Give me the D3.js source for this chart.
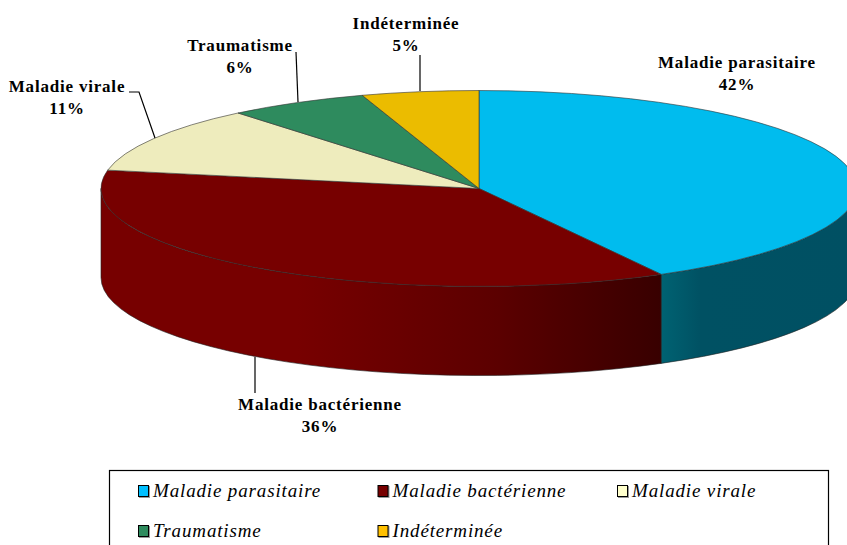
<!DOCTYPE html>
<html>
<head>
<meta charset="utf-8">
<script src="https://cdnjs.cloudflare.com/ajax/libs/d3/7.8.5/d3.min.js"></script>
<style>
  html, body { margin: 0; padding: 0; background: #fff; overflow: hidden; }
  text { font-family: "Liberation Serif", serif; fill: #000; }
  .label { font-size: 17px; font-weight: bold; text-anchor: middle; letter-spacing: 0.8px; }
  .legend-text { font-size: 19px; font-style: italic; letter-spacing: 0.85px; }
</style>
</head>
<body>
<svg id="chart" width="847" height="545"></svg>
<script>
const categories = ['Maladie parasitaire', 'Maladie bactérienne', 'Maladie virale', 'Traumatisme', 'Indéterminée'];
const values = [42, 36, 11, 6, 5];
const topColors = ['#00bcee', '#770000', '#eeecbd', '#2e8b5e', '#ebbc00'];
const legendColors = ['#00bfff', '#770000', '#ffffcc', '#2e8b5e', '#ffc000'];

// label block centre and first baseline, leader polyline
const labelPos = [
  { x: 737, y: 68, line: null },
  { x: 320, y: 410, line: [[255, 357], [255, 393]] },
  { x: 67, y: 92, line: [[129, 92], [139, 92], [155, 138]] },
  { x: 240, y: 51, line: [[296, 52], [298, 102]] },
  { x: 406, y: 29, line: [[420, 55], [420, 91]] }
];

const cx = 479, cy = 188.5, rx = 378, ry = 98, depth = 89;
const svg = d3.select('#chart');
const defs = svg.append('defs');

const slices = d3.pie().sort(null).value(d => d)(values);
const pt = (a, dy = 0) => [cx + rx * Math.sin(a), cy - ry * Math.cos(a) + dy];
const arcTo = (a0, a1, dy = 0) => {
  const [x, y] = pt(a1, dy);
  const large = Math.abs(a1 - a0) > Math.PI ? 1 : 0;
  const sweep = a1 > a0 ? 1 : 0;
  return `A${rx},${ry} 0 ${large} ${sweep} ${x},${y}`;
};

// side wall gradients
function wallGradient(id, x1, x2, stops) {
  const g = defs.append('linearGradient').attr('id', id)
    .attr('gradientUnits', 'userSpaceOnUse')
    .attr('x1', x1).attr('x2', x2).attr('y1', 0).attr('y2', 0);
  stops.forEach(s => g.append('stop').attr('offset', s[0]).attr('stop-color', s[1]));
}
wallGradient('wall0', 662, 857, [[0, '#006272'], [0.2, '#005163'], [1, '#005063']]);
wallGradient('wall1', 101, 662, [[0, '#770000'], [0.35, '#770000'], [0.7, '#5c0000'], [1, '#380000']]);

// walls only for the part of the rim facing the viewer
const walls = [
  { a0: slices[0].endAngle, a1: Math.PI / 2, fill: 'url(#wall0)' },
  { a0: 3 * Math.PI / 2, a1: slices[0].endAngle, fill: 'url(#wall1)' }
];
svg.selectAll('path.wall').data(walls).join('path')
  .attr('class', 'wall')
  .attr('fill', d => d.fill)
  .attr('stroke', '#222')
  .attr('stroke-width', 0.6)
  .attr('d', d => `M${pt(d.a0)}L${pt(d.a0, depth)}${arcTo(d.a0, d.a1, depth)}L${pt(d.a1)}${arcTo(d.a1, d.a0)}Z`);

// top face
svg.selectAll('path.slice').data(slices).join('path')
  .attr('class', 'slice')
  .attr('fill', (d, i) => topColors[i])
  .attr('stroke', '#333')
  .attr('stroke-width', 0.6)
  .attr('d', d => `M${cx},${cy}L${pt(d.startAngle)}${arcTo(d.startAngle, d.endAngle)}Z`);

// leader lines
const line = d3.line();
svg.selectAll('path.leader').data(labelPos.filter(d => d.line)).join('path')
  .attr('class', 'leader')
  .attr('fill', 'none')
  .attr('stroke', '#000')
  .attr('stroke-width', 1.2)
  .attr('d', d => line(d.line));

// data labels
const labels = svg.selectAll('text.label').data(categories).join('text')
  .attr('class', 'label');
labels.append('tspan')
  .attr('x', (d, i) => labelPos[i].x)
  .attr('y', (d, i) => labelPos[i].y)
  .text(d => d);
labels.append('tspan')
  .attr('x', (d, i) => labelPos[i].x)
  .attr('y', (d, i) => labelPos[i].y + 22)
  .text((d, i) => values[i] + '%');

// legend
svg.append('rect')
  .attr('x', 109.5).attr('y', 470.5).attr('width', 719).attr('height', 90)
  .attr('fill', '#fff').attr('stroke', '#000').attr('stroke-width', 1.2);

const colX = d3.scalePoint().domain([0, 1, 2]).range([138, 617]);
const rowY = d3.scalePoint().domain([0, 1]).range([485, 525]);
const item = svg.selectAll('g.legend').data(categories).join('g')
  .attr('class', 'legend')
  .attr('transform', (d, i) => `translate(${colX(i % 3)},${rowY(Math.floor(i / 3))})`);
item.append('rect').attr('x', 1).attr('y', 1).attr('width', 11).attr('height', 12).attr('fill', '#999');
item.append('rect')
  .attr('x', 0.5).attr('y', 0.5).attr('width', 10).attr('height', 11)
  .attr('fill', (d, i) => legendColors[i])
  .attr('stroke', '#000').attr('stroke-width', 1);
item.append('text')
  .attr('class', 'legend-text')
  .attr('x', 15).attr('y', 12)
  .text(d => d);
</script>
</body>
</html>
